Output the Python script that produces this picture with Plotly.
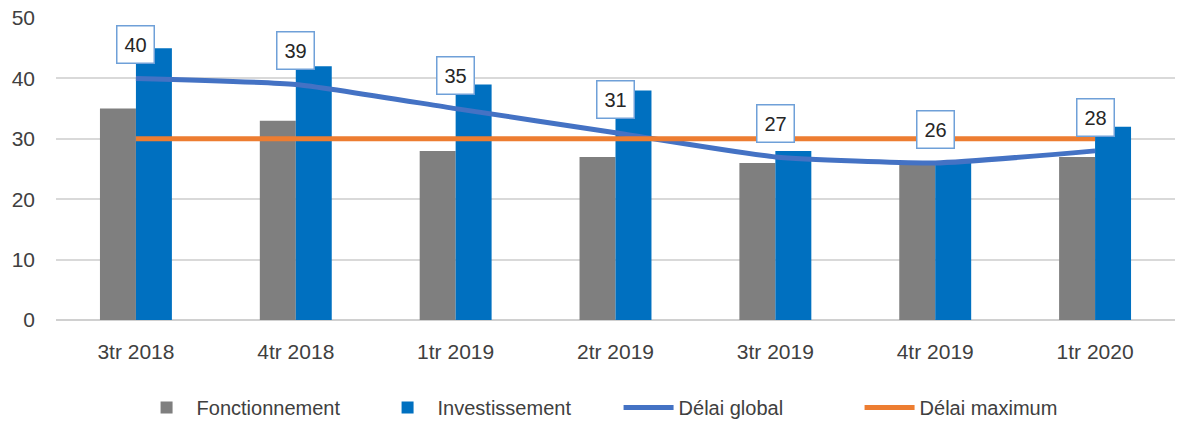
import plotly.graph_objects as go

categories = ["3tr 2018", "4tr 2018", "1tr 2019", "2tr 2019", "3tr 2019", "4tr 2019", "1tr 2020"]
fonctionnement = [35, 33, 28, 27, 26, 26, 27]
investissement = [45, 42, 39, 38, 28, 26, 32]
delai_global = [40, 39, 35, 31, 27, 26, 28]
delai_maximum = [30, 30, 30, 30, 30, 30, 30]
y_ticks = [0, 10, 20, 30, 40, 50]

FONT = "Liberation Sans"

fig = go.Figure()
fig.add_trace(go.Bar(x=categories, y=fonctionnement, name="Fonctionnement",
                     marker=dict(color="#7f7f7f", line=dict(width=0))))
fig.add_trace(go.Bar(x=categories, y=investissement, name="Investissement",
                     marker=dict(color="#0070c0", line=dict(width=0))))
fig.add_trace(go.Scatter(x=categories, y=delai_global, name="Délai global", mode="lines",
                         line=dict(color="#4472c4", width=5, shape="spline", smoothing=0.5)))
fig.add_trace(go.Scatter(x=categories, y=delai_maximum, name="Délai maximum", mode="lines",
                         line=dict(color="#ed7d31", width=5)))

for c, v in zip(categories, delai_global):
    fig.add_annotation(x=c, y=v, xref="x", yref="y", text=str(v), showarrow=False,
                       yanchor="bottom", yshift=14,
                       font=dict(family=FONT, size=20, color="#262626"),
                       bgcolor="white", bordercolor="#6fa0d8", borderwidth=1.5, borderpad=7)

fig.update_layout(
    width=1179, height=421,
    margin=dict(l=56, r=4, t=18, b=101, autoexpand=False),
    paper_bgcolor="white", plot_bgcolor="white",
    barmode="group", bargap=0.55, bargroupgap=0,
    font=dict(family=FONT, size=20, color="#404040"),
    legend=dict(orientation="h", x=0.072, xanchor="left", y=-0.29, yanchor="middle",
                font=dict(family=FONT, size=20, color="#404040"), itemwidth=50,
                entrywidth=176, traceorder="normal"),
    showlegend=True,
)
fig.update_xaxes(showgrid=False, showline=False, ticks="", ticklabelstandoff=17,
                 tickfont=dict(family=FONT, size=21, color="#404040"))
fig.update_yaxes(range=[0, 50], tickvals=y_ticks, showgrid=True, gridcolor="#d9d9d9", gridwidth=2,
                 zeroline=True, zerolinecolor="#d0d0d0", zerolinewidth=2, showline=False,
                 ticks="", ticklabelstandoff=20,
                 tickfont=dict(family=FONT, size=21, color="#404040"))

fig.write_html("out.html", config={"displayModeBar": False},
               post_script="document.body.style.margin='0';")
